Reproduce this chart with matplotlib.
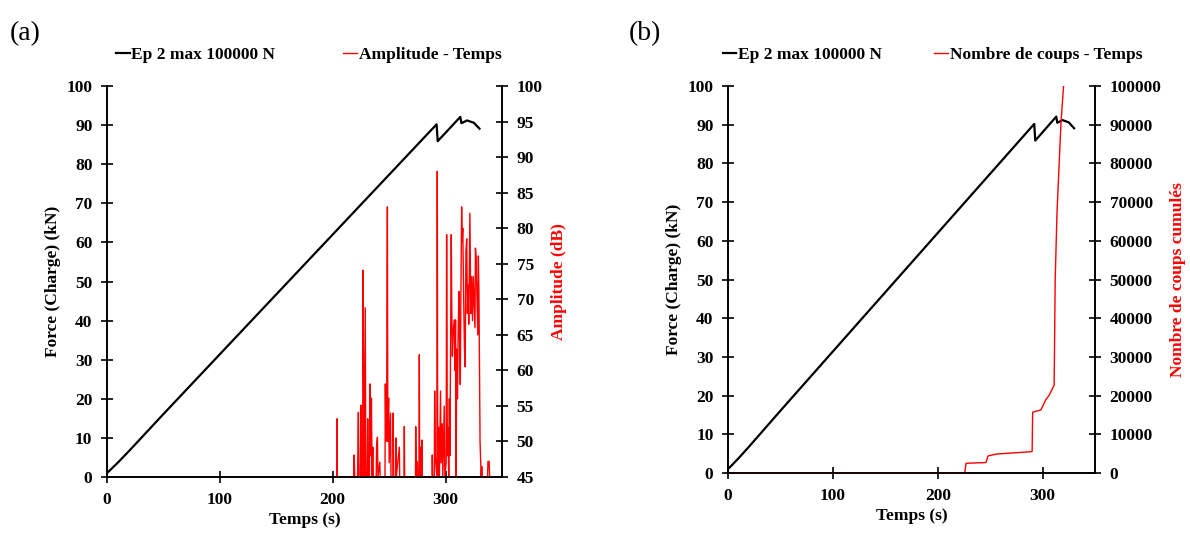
import numpy as np
import matplotlib
matplotlib.use('Agg')
import matplotlib.pyplot as plt

plt.rcParams['font.family'] = ['Liberation Serif', 'DejaVu Serif']
plt.rcParams['font.weight'] = 'bold'

# =========================
# Données
# =========================
# Courbe de force (kN) en fonction du temps (s)
temps_force = [0, 10, 20, 30, 50, 292, 293, 313, 314, 319, 325, 330]
force = [1, 3.8, 6.8, 9.9, 16.1, 90.2, 85.9, 92.1, 90.5, 91.2, 90.6, 89.1]

# Amplitude (dB) en fonction du temps (s)
temps_amp = [203.5, 203.8, 204.1,
             218.5, 219, 219.5,
             222, 222.7, 223.2, 224.5, 225, 225.5,
             226.5, 226.8, 227.3, 228, 228.8, 229.3,
             230.5, 231, 231.5, 232.5, 233, 233.5, 234.3, 234.8, 235.5, 236,
             238.5, 238.8, 239.6, 240, 241.7, 242,
             246.3, 246.6, 247, 247.8, 248.4, 248.8, 249.5, 250, 251.2, 251.6,
             253.3, 253.5, 254, 255.8, 256, 256.3, 259, 259.3,
             263.2, 263.4, 263.7,
             273.3, 273.5, 274, 275, 275.3, 276.5, 276.7, 277, 277.6, 278, 278.8, 279, 279.3,
             288, 288.2, 288.5, 290, 290.3, 290.8, 292.3, 292.6, 293, 293.8, 294.5,
             295.5, 296, 297, 297.5, 298.8, 299.3, 300.5, 300.9, 301.5, 302, 302.8,
             303.3, 303.8, 305, 305.5, 306, 306.5, 307.6, 308.2, 308.8, 309.3, 309.8,
             310.5, 311, 311.8, 312.3, 313, 313.5, 314.2, 314.6, 315.2, 316, 316.7,
             317.3, 318, 318.7, 319.3, 319.8, 320.5, 321.5, 322.3, 323, 323.8, 324.5,
             325.2, 326, 326.4, 327, 327.8, 328.5, 329, 329.5, 330.5, 331.5, 332, 332.5,
             337.2, 337.5, 338.5, 339]
amplitude = [45, 53.2, 45,
             45, 48.1, 45,
             45, 54.1, 45, 45, 55.1, 45,
             45, 74.1, 60, 45, 68.8, 45,
             45, 53.2, 45, 45, 58.1, 48, 56.1, 45, 49.2, 45,
             45, 49.2, 50.6, 45, 47.1, 45,
             45, 58.1, 50, 55, 83, 50, 56.1, 47, 54, 45,
             45, 54, 45, 45, 50.5, 45, 49.2, 45,
             45, 52.1, 45,
             45, 52.1, 45, 47.2, 45, 45, 62.2, 45, 49.2, 45, 45, 50.2, 45,
             45, 48.1, 45, 45, 57.1, 48, 45, 88, 45, 52, 45,
             57.1, 47, 52.5, 45, 55, 45, 47, 79.1, 48, 52, 45,
             56, 48, 79.1, 68.1, 62, 65, 67.1, 60, 67.1, 45, 63,
             56, 64, 71.1, 65, 58, 70, 83, 78, 80, 70, 63,
             60.5, 76.7, 78.5, 68, 72, 66.5, 82.1, 68, 73.2, 67, 73.2,
             70, 66, 77.2, 76, 70, 65, 76.1, 71, 50, 45, 46.5, 45,
             45, 47.2, 47.2, 45]

# Nombre de coups cumulés en fonction du temps (s)
temps_coups = [0, 225.7, 227, 246, 248, 256, 289, 290, 290.5, 298.4, 303, 306.3, 311, 312, 313.7, 317.5, 320]
coups = [0, 0, 2500, 2700, 4400, 4900, 5500, 5600, 15700, 16300, 18900, 20100, 22700, 49900, 67100, 90400, 100000]

ROUGE = '#ff0000'
FS = 12.5


def style_axes(ax, ax2):
    for a in (ax, ax2):
        a.spines['top'].set_visible(False)
        a.tick_params(direction='inout', length=9, width=1.2, labelsize=FS, pad=6)
        for s in ('left', 'bottom', 'right'):
            a.spines[s].set_linewidth(1.2)
    ax.set_xlim(0, 350)
    ax.set_xticks([0, 100, 200, 300])
    ax.set_ylim(0, 100)
    ax.set_yticks(range(0, 101, 10))
    ax.set_xlabel('Temps (s)', fontsize=FS, fontweight='bold', labelpad=3)
    ax.set_ylabel('Force (Charge) (kN)', fontsize=FS, fontweight='bold', labelpad=4)
    for lab in ax.get_xticklabels() + ax.get_yticklabels() + ax2.get_yticklabels():
        lab.set_fontweight('bold')


fig = plt.figure(figsize=(11.9, 5.33), dpi=100)

# =========================
# (a) Force + Amplitude
# =========================
ax_a = fig.add_axes([0.0899, 0.105, 0.332, 0.7336])
ax_a2 = ax_a.twinx()
l1, = ax_a.plot(temps_force, force, color='black', lw=1.6, label='Ep 2 max 100000 N')
l2, = ax_a2.plot(temps_amp, amplitude, color=ROUGE, lw=1.0, label='Amplitude - Temps')
ax_a2.set_ylim(45, 100)
ax_a2.set_yticks(range(45, 101, 5))
ax_a2.set_ylabel('Amplitude (dB)', fontsize=FS, fontweight='bold', color=ROUGE, labelpad=6)
style_axes(ax_a, ax_a2)
ax_a.legend(handles=[l1, l2], loc='center', bbox_to_anchor=(0.51, 1.079), ncol=2,
            frameon=False, handlelength=0.8, handletextpad=0.1, columnspacing=3.9,
            borderpad=0, prop={'weight': 'bold', 'size': FS})
fig.text(0.008, 0.925, '(a)', fontsize=20, fontweight='normal')

# =========================
# (b) Force + Nombre de coups
# =========================
ax_b = fig.add_axes([0.6118, 0.1126, 0.3084, 0.726])
ax_b2 = ax_b.twinx()
m1, = ax_b.plot(temps_force, force, color='black', lw=1.6, label='Ep 2 max 100000 N')
m2, = ax_b2.plot(temps_coups, coups, color=ROUGE, lw=1.0, label='Nombre de coups - Temps')
ax_b2.set_ylim(0, 100000)
ax_b2.set_yticks(range(0, 100001, 10000))
ax_b2.set_ylabel('Nombre de coups cumulés', fontsize=FS, fontweight='bold', color=ROUGE, labelpad=6)
style_axes(ax_b, ax_b2)
ax_b.legend(handles=[m1, m2], loc='center', bbox_to_anchor=(0.557, 1.08), ncol=2,
            frameon=False, handlelength=0.8, handletextpad=0.1, columnspacing=3.0,
            borderpad=0, prop={'weight': 'bold', 'size': FS})
fig.text(0.528, 0.925, '(b)', fontsize=20, fontweight='normal')

fig.savefig('out.png', dpi=100)
